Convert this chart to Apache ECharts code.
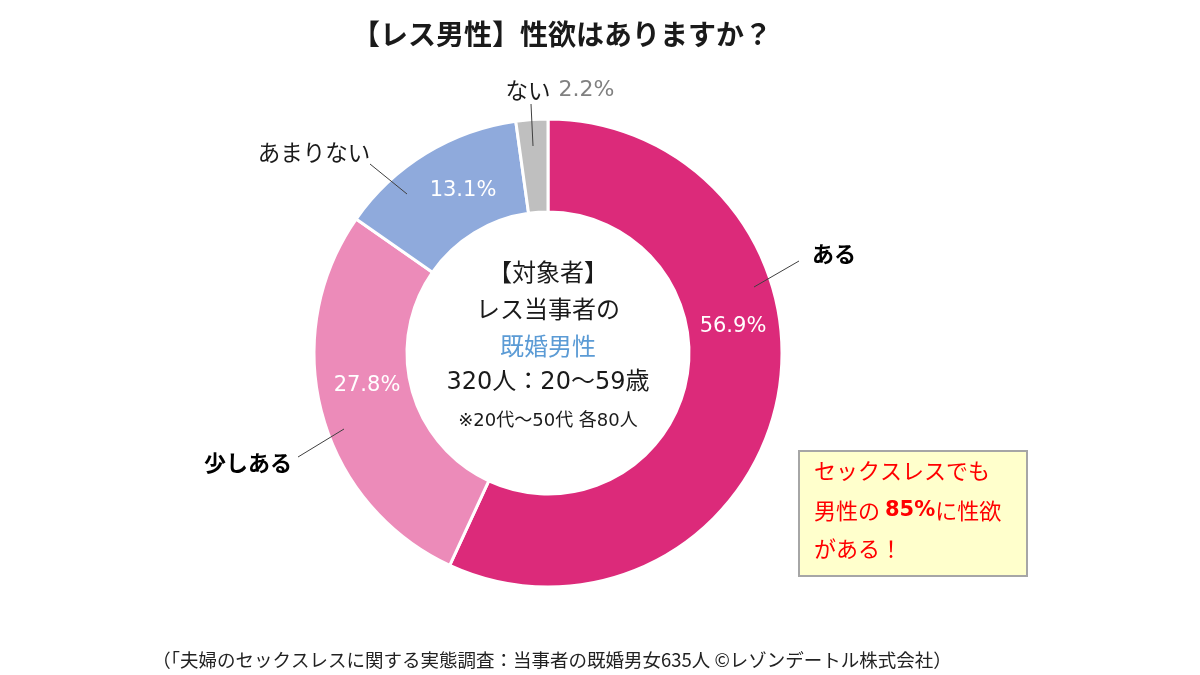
<!DOCTYPE html>
<html>
<head>
<meta charset="utf-8">
<script src="https://cdn.jsdelivr.net/npm/echarts@6/dist/echarts.min.js"></script>
<style>
html,body{margin:0;padding:0;background:#fff;}
#main{width:1200px;height:675px;}
</style>
</head>
<body>
<div id="main"></div>
<script>
const categories = ['ある', '少しある', 'あまりない', 'ない'];
const values = [56.9, 27.8, 13.1, 2.2];
const colors = ['#DC2A7A', '#EC8BB9', '#8FAADC', '#BFBFBF'];
const titleText = '【レス男性】性欲はありますか？';
const centerLines = ['【対象者】', 'レス当事者の', '既婚男性', '320人：20〜59歳', '※20代〜50代 各80人'];
const noteLines = ['セックスレスでも', '男性の ', '85%', 'に性欲', 'がある！'];
const sourceText = '（「夫婦のセックスレスに関する実態調査：当事者の既婚男女635人 ©レゾンデートル株式会社）';

const FONT = '"Noto Sans CJK JP", "Noto Sans", sans-serif';
const MIX = '"DejaVu Sans", "Noto Sans CJK JP", sans-serif';
const chart = echarts.init(document.getElementById('main'), null, {renderer: 'canvas'});

// label placement (positions of the text labels only)
const innerLabelPos = [[733, 327], [367, 386], [463, 191], null];
const outerLabelPos = [[834, 254], [248, 463], [314, 152], [560, 90]];
const leaderLines = [
  [[754, 287], [799, 261]],
  [[344, 429], [298, 457]],
  [[407, 194], [370, 164]],
  [[533, 146], [531, 104]]
];

const pieData = categories.map((c, i) => ({name: c, value: values[i], itemStyle: {color: colors[i]}}));

const option = {
  backgroundColor: '#ffffff',
  animation: false,
  title: {
    text: titleText,
    left: 557,
    top: 15,
    textAlign: 'center',
    textStyle: {fontFamily: FONT, fontSize: 28, fontWeight: 'bold', color: '#1a1a1a'}
  },
  series: [
    {
      type: 'pie',
      center: [548, 353],
      radius: [141, 234],
      startAngle: 90,
      clockwise: true,
      silent: true,
      itemStyle: {borderColor: '#ffffff', borderWidth: 3},
      label: {
        show: true,
        position: 'inside',
        fontFamily: MIX,
        fontSize: 21,
        color: '#ffffff',
        formatter: p => p.dataIndex === 3 ? '' : p.value.toFixed(1) + '%'
      },
      labelLine: {show: false},
      labelLayout: p => {
        const pos = innerLabelPos[p.dataIndex];
        if (!pos) return {};
        return {x: pos[0], y: pos[1], align: 'center', verticalAlign: 'middle'};
      },
      data: pieData
    },
    {
      type: 'pie',
      center: [548, 353],
      radius: [141, 234],
      startAngle: 90,
      clockwise: true,
      silent: true,
      itemStyle: {color: 'rgba(0,0,0,0)', borderWidth: 0},
      label: {
        show: true,
        position: 'outside',
        formatter: p => {
          if (p.dataIndex === 3) return '{n|' + p.name + '}{g|' + p.value.toFixed(1) + '%}';
          if (p.dataIndex === 2) return '{n|' + p.name + '}';
          return '{b|' + p.name + '}';
        },
        rich: {
          n: {fontFamily: FONT, fontSize: 22.5, color: '#1a1a1a'},
          b: {fontFamily: FONT, fontSize: 22, fontWeight: 'bold', color: '#000000'},
          g: {fontFamily: MIX, fontSize: 22, color: '#808080', padding: [0, 0, 0, 8]}
        }
      },
      labelLine: {show: false},
      labelLayout: p => {
        const o = outerLabelPos[p.dataIndex];
        return {x: o[0], y: o[1], align: 'center', verticalAlign: 'middle'};
      },
      data: categories.map((c, i) => ({name: c, value: values[i]}))
    }
  ],
  graphic: [
    ...leaderLines.map(pts => ({
      type: 'polyline',
      z: 100,
      shape: {points: pts},
      style: {stroke: '#404040', lineWidth: 1, fill: null}
    })),
    ...centerLines.map((t, i) => ({
      type: 'text',
      z: 100,
      x: 548,
      y: [272, 309, 346, 383, 421][i],
      style: {
        text: t,
        fontFamily: i >= 3 ? MIX : FONT,
        fontSize: i === 4 ? 18 : 24,
        fill: i === 2 ? '#5B9BD5' : '#1a1a1a',
        textAlign: 'center',
        textVerticalAlign: 'middle'
      }
    })),
    {
      type: 'rect',
      shape: {x: 799, y: 451, width: 228, height: 125},
      style: {fill: '#FFFFCC', stroke: '#A6A6A6', lineWidth: 2}
    },
    {
      type: 'text',
      x: 814,
      y: 471,
      style: {text: noteLines[0], fontFamily: FONT, fontSize: 22, fill: '#FF0000', textVerticalAlign: 'middle'}
    },
    {
      type: 'text',
      x: 814,
      y: 511,
      style: {
        text: '{r|' + noteLines[1] + '}{b|' + noteLines[2] + '}{r|' + noteLines[3] + '}',
        textVerticalAlign: 'middle',
        rich: {
          r: {fontFamily: FONT, fontSize: 22, fill: '#FF0000', color: '#FF0000'},
          b: {fontFamily: MIX, fontSize: 21, fontWeight: 'bold', fill: '#FF0000', color: '#FF0000'}
        }
      }
    },
    {
      type: 'text',
      x: 814,
      y: 549,
      style: {text: noteLines[4], fontFamily: FONT, fontSize: 22, fill: '#FF0000', textVerticalAlign: 'middle'}
    },
    {
      type: 'text',
      x: 552,
      y: 660,
      style: {text: sourceText, fontFamily: FONT, fontSize: 18.5, fill: '#222222', textAlign: 'center', textVerticalAlign: 'middle'}
    }
  ]
};
chart.setOption(option);
</script>
</body>
</html>
